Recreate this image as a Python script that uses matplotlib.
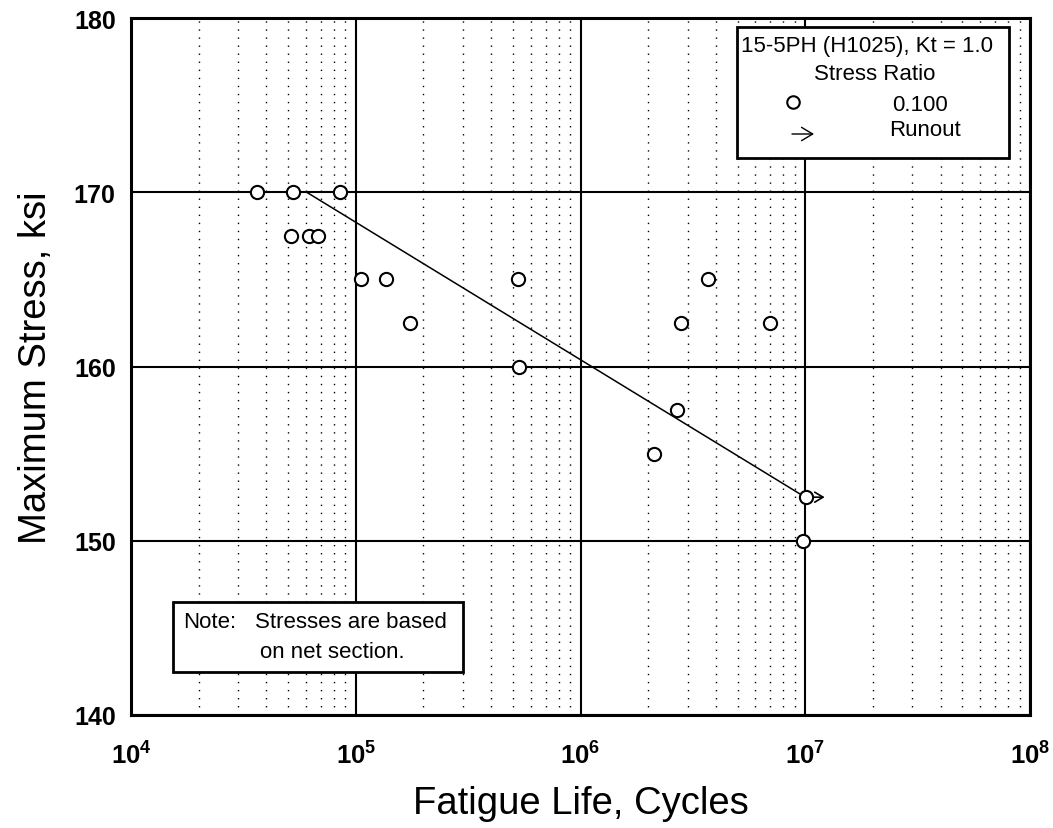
import numpy as np
import matplotlib
matplotlib.use("Agg")
import matplotlib.pyplot as plt
from matplotlib.patches import Rectangle
from matplotlib.ticker import LogLocator, NullFormatter

plt.rcParams["font.family"] = ["Liberation Sans", "DejaVu Sans"]
plt.rcParams["mathtext.fontset"] = "custom"
plt.rcParams["mathtext.rm"] = "Liberation Sans"
plt.rcParams["mathtext.bf"] = "Liberation Sans:bold"

# fatigue data, R = 0.100
cycles = [3.63e4, 5.27e4, 8.51e4, 5.14e4, 6.19e4, 6.77e4,
          1.06e5, 1.37e5, 5.26e5, 1.74e5, 5.32e5,
          3.68e6, 2.80e6, 6.97e6, 2.13e6, 2.69e6, 9.8e6, 1.004e7]
stress = [170.0, 170.0, 170.0, 167.5, 167.5, 167.5,
          165.0, 165.0, 165.0, 162.5, 160.0,
          165.0, 162.5, 162.5, 155.0, 157.5, 150.0, 152.5]

# runout points (cycles, stress)
runout_cycles = [1.004e7]
runout_stress = [152.5]
runout_arrow_end = 1.22e7

# best fit line end points
fit_cycles = [6.05e4, 1.0e7]
fit_stress = [170.0, 152.5]

x_ticks = [1e4, 1e5, 1e6, 1e7, 1e8]
x_tick_labels = [r"$\mathbf{10^{4}}$", r"$\mathbf{10^{5}}$", r"$\mathbf{10^{6}}$",
                 r"$\mathbf{10^{7}}$", r"$\mathbf{10^{8}}$"]
y_ticks = [140, 150, 160, 170, 180]

W, H = 1053, 829
fig = plt.figure(figsize=(W / 100, H / 100), dpi=100)
L, R, T, B = 131, 1030, 19, 716
ax = fig.add_axes([L / W, 1 - B / H, (R - L) / W, (B - T) / H])


def ax_frac(px, py):
    return (px - L) / (R - L), (B - py) / (B - T)


ax.set_xscale("log")
ax.set_xlim(1e4, 1e8)
ax.set_ylim(140, 180)

ax.xaxis.set_minor_locator(LogLocator(base=10, subs=np.arange(2, 10)))
ax.xaxis.set_minor_formatter(NullFormatter())
ax.set_xticks(x_ticks)
ax.set_xticklabels(x_tick_labels, fontsize=18.5)
ax.set_yticks(y_ticks)
ax.set_yticklabels([str(v) for v in y_ticks], fontsize=18, fontweight="bold")
ax.tick_params(which="both", length=0)
ax.tick_params(axis="x", pad=19)
ax.tick_params(axis="y", pad=11)

ax.grid(True, which="major", color="black", linewidth=1.5, linestyle="-")
ax.grid(True, which="minor", axis="x", color="black", linewidth=1.0,
        linestyle=(0, (1, 4.8)))
ax.set_axisbelow(True)
for sp in ax.spines.values():
    sp.set_linewidth(2.2)

ax.plot(fit_cycles, fit_stress, color="black", linewidth=1.1, zorder=3)
ax.plot(cycles, stress, linestyle="none", marker="o", markersize=9.5,
        markerfacecolor="white", markeredgecolor="black",
        markeredgewidth=1.5, zorder=4)
for c, s in zip(runout_cycles, runout_stress):
    ax.annotate("", xy=(runout_arrow_end, s), xytext=(c, s),
                arrowprops=dict(arrowstyle="->,head_length=0.5,head_width=0.3",
                                mutation_scale=12, color="black", lw=1.2,
                                shrinkA=0, shrinkB=0), zorder=3)

ax.set_xlabel("Fatigue Life, Cycles", fontsize=27.5, labelpad=12)
ax.set_ylabel("Maximum Stress, ksi", fontsize=27.5, labelpad=14)

# legend box
x0, y1 = ax_frac(737, 28)
x1, y0 = ax_frac(1009, 159)
ax.add_patch(Rectangle((x0, y0), x1 - x0, y1 - y0, transform=ax.transAxes,
                       facecolor="white", edgecolor="black", linewidth=2,
                       zorder=5))
fs = 16
ax.text(*ax_frac(867, 46), "15-5PH (H1025), Kt = 1.0", transform=ax.transAxes,
        ha="center", va="center", fontsize=fs, zorder=6)
ax.text(*ax_frac(875, 74), "Stress Ratio", transform=ax.transAxes,
        ha="center", va="center", fontsize=fs, zorder=6)
ax.plot(*ax_frac(793, 103), transform=ax.transAxes, marker="o", markersize=9,
        markerfacecolor="white", markeredgecolor="black", markeredgewidth=1.5,
        zorder=6, clip_on=False)
ax.text(*ax_frac(920, 105), "0.100", transform=ax.transAxes,
        ha="center", va="center", fontsize=fs, zorder=6)
ax.annotate("", xy=ax_frac(814, 135), xytext=ax_frac(792, 135),
            xycoords="axes fraction", textcoords="axes fraction",
            arrowprops=dict(arrowstyle="->,head_length=0.5,head_width=0.3",
                            mutation_scale=16, color="black", lw=1.0,
                            shrinkA=0, shrinkB=0), zorder=6)
ax.text(*ax_frac(925, 130), "Runout", transform=ax.transAxes,
        ha="center", va="center", fontsize=fs, zorder=6)

# note box
x0, y1 = ax_frac(173, 603)
x1, y0 = ax_frac(463, 673)
ax.add_patch(Rectangle((x0, y0), x1 - x0, y1 - y0, transform=ax.transAxes,
                       facecolor="white", edgecolor="black", linewidth=2,
                       zorder=5))
ax.text(*ax_frac(183, 623), "Note:", transform=ax.transAxes,
        ha="left", va="center", fontsize=fs, zorder=6)
ax.text(*ax_frac(255, 623), "Stresses are based", transform=ax.transAxes,
        ha="left", va="center", fontsize=fs, zorder=6)
ax.text(*ax_frac(260, 652), "on net section.", transform=ax.transAxes,
        ha="left", va="center", fontsize=fs, zorder=6)

fig.savefig("out.png", dpi=100)
plt.close(fig)
